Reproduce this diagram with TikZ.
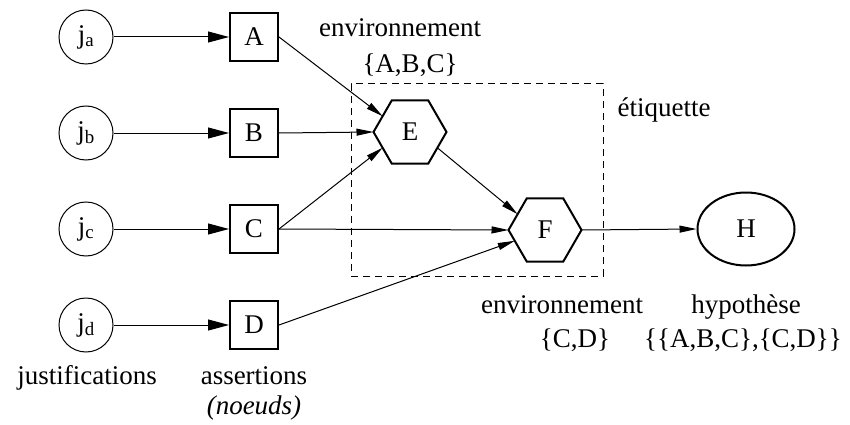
\documentclass[tikz,border=0pt]{standalone}
\usepackage{fontspec}
\setmainfont{Liberation Serif}
\usetikzlibrary{arrows.meta,shapes.geometric}

\tikzset{
  just/.style={circle,draw,line width=1pt,minimum size=54pt,inner sep=0pt},
  assert/.style={rectangle,draw,line width=2pt,minimum size=48pt,inner sep=0pt},
  envnode/.style={regular polygon,regular polygon sides=6,draw,line width=2pt,
                  minimum size=73pt,inner sep=0pt,outer sep=0pt},
  hyp/.style={ellipse,draw,line width=2pt,minimum width=97pt,minimum height=73pt,inner sep=0pt},
  bigarrow/.style={line width=1pt,-{Triangle[length=21pt,width=11pt]}},
  smallarrow/.style={line width=1pt,-{Triangle[length=17pt,width=7pt]}},
  labeltext/.style={anchor=base,inner sep=0pt},
  labelframe/.style={draw,dash pattern=on 7pt off 5pt,line width=1pt,
                     minimum width=252pt,minimum height=192pt,inner sep=0pt}
}

\begin{document}
\begin{tikzpicture}[x=1pt,y=-1pt,font=\fontsize{27}{32}\selectfont]
\useasboundingbox (0,0) rectangle (850,425);

% dashed frame around the environment nodes
\node[labelframe] (frame) at (477,180) {};

% justifications
\node[just] (ja) at (86,37)  {j\textsubscript{a}};
\node[just] (jb) at (86,133) {j\textsubscript{b}};
\node[just] (jc) at (86,229) {j\textsubscript{c}};
\node[just] (jd) at (86,325) {j\textsubscript{d}};

% assertions
\node[assert] (A) at (254,37)  {A};
\node[assert] (B) at (254,133) {B};
\node[assert] (C) at (254,229) {C};
\node[assert] (D) at (254,325) {D};

% environments and hypothesis
\node[envnode] (E) at (410,132) {E};
\node[envnode] (F) at (545,230) {F};
\node[hyp] (H) at (746,229) {H};

% connectors
\draw[bigarrow] (ja) -- (A);
\draw[bigarrow] (jb) -- (B);
\draw[bigarrow] (jc) -- (C);
\draw[bigarrow] (jd) -- (D);

\draw[smallarrow] (A.east) -- (E.150);
\draw[smallarrow] (B.east) -- (E.west);
\draw[smallarrow] (C.east) -- (E.210);
\draw[smallarrow] (C.east) -- (F.west);
\draw[smallarrow] (D.east) -- (F);
\draw[smallarrow] (E.-30) -- (F.150);
\draw[smallarrow] (F.east) -- (H.west);

% labels
\node[labeltext] (envtop) at (400,37) {environnement};
\node[labeltext] (envtopset) at (410,73) {\{A,B,C\}};
\node[labeltext] (etiq) at (664,117) {étiquette};
\node[labeltext] (envbot) at (562,313) {environnement};
\node[labeltext] (envbotset) at (575,347) {\{C,D\}};
\node[labeltext] (hyplabel) at (746,313) {hypothèse};
\node[labeltext] (hypset) at (743,347) {\{\{A,B,C\},\{C,D\}\}};
\node[labeltext] (justlabel) at (87,384) {justifications};
\node[labeltext] (assertlabel) at (254,384) {assertions};
\node[labeltext] (noeuds) at (254,414) {\textit{(noeuds)}};
\end{tikzpicture}
\end{document}
